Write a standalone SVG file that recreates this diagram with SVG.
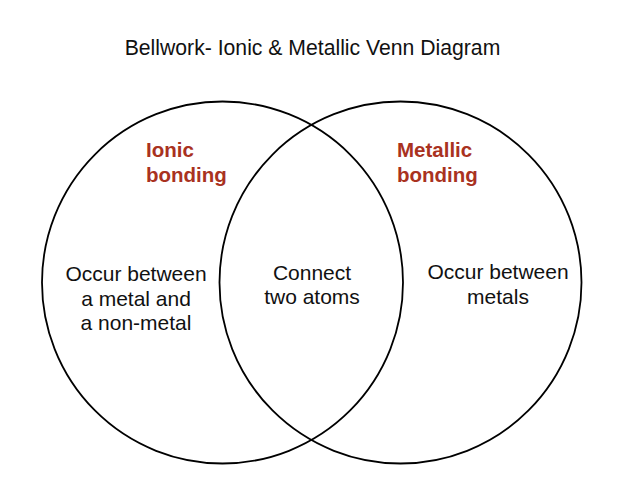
<svg xmlns="http://www.w3.org/2000/svg" width="640" height="480" viewBox="0 0 640 480">
<style>
.c{fill:none;stroke:#000;stroke-width:1.8}
.t{font-family:"Liberation Sans",Arial,sans-serif;fill:#111;text-anchor:middle}
.h{font-family:"Liberation Sans",Arial,sans-serif;font-weight:bold;fill:#a9321f;font-size:20.5px}
.b{font-size:21px}
</style>
<rect width="640" height="480" fill="#fff"/>
<text class="t" x="312.5" y="55" font-size="21.2">Bellwork- Ionic &amp; Metallic Venn Diagram</text>
<g id="connectors"></g>
<g id="ionic">
<ellipse class="c" cx="222.5" cy="282.5" rx="180.5" ry="181"/>
<text class="h" x="146" y="157">Ionic</text>
<text class="h" x="146" y="182">bonding</text>
<text class="t b" x="136" y="281">Occur between</text>
<text class="t b" x="136" y="305.5">a metal and</text>
<text class="t b" x="136" y="330">a non-metal</text>
</g>
<g id="metallic">
<ellipse class="c" cx="400.5" cy="282.5" rx="181" ry="181"/>
<text class="h" x="397" y="157">Metallic</text>
<text class="h" x="397" y="182">bonding</text>
<text class="t b" x="498" y="279">Occur between</text>
<text class="t b" x="498" y="303.5">metals</text>
</g>
<g id="both">
<text class="t b" x="312" y="280">Connect</text>
<text class="t b" x="312" y="304">two atoms</text>
</g>
</svg>
